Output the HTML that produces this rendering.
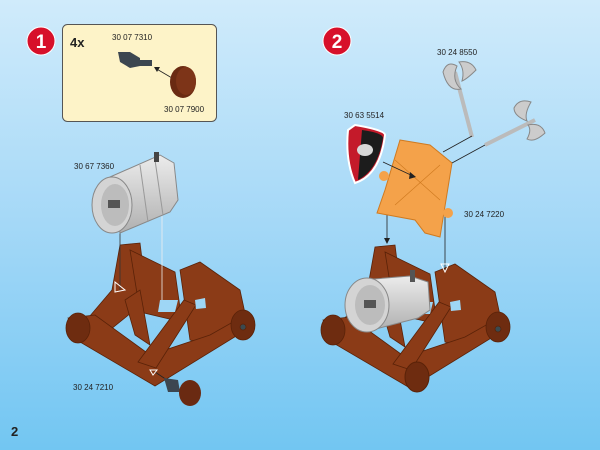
<!DOCTYPE html>
<html><head><meta charset="utf-8"><style>
html,body{margin:0;padding:0;width:600px;height:450px;overflow:hidden}
svg{display:block}
text{font-family:"Liberation Sans",sans-serif;fill:#222}
</style></head><body>
<svg width="600" height="450" viewBox="0 0 600 450">
<defs>
<linearGradient id="bg" x1="0" y1="0" x2="0" y2="1">
<stop offset="0" stop-color="#d0ebfb"/><stop offset="0.5" stop-color="#a4d8f7"/><stop offset="1" stop-color="#72c6f2"/>
</linearGradient>
<linearGradient id="barrel" x1="0" y1="0" x2="0" y2="1">
<stop offset="0" stop-color="#ececec"/><stop offset="1" stop-color="#b0b0b0"/>
</linearGradient>
<g id="cat" fill="#8b3b17" stroke="#5a2208" stroke-width="0.8">
<polygon points="120,245 140,243 147,300 95,342 78,330 112,290"/>
<polygon points="130,250 175,272 182,322 140,312"/>
<polygon points="180,270 200,262 240,290 246,318 210,345 190,340"/>
<polygon points="68,318 95,315 150,355 210,335 240,318 246,330 155,386 80,342"/>
<polygon points="138,362 184,300 196,305 156,368"/>
<polygon points="125,300 140,290 150,345 135,335"/>
<ellipse cx="78" cy="328" rx="12" ry="15" fill="#6e2c10"/>
<ellipse cx="243" cy="325" rx="12" ry="15" fill="#6e2c10"/>
<circle cx="243" cy="327" r="3" fill="#3a4a50"/>
<polygon points="160,300 178,300 175,312 158,312" fill="#9ed6f5" stroke="none"/>
<polygon points="195,300 205,298 206,308 196,309" fill="#9ed6f5" stroke="none"/>
</g>
</defs>
<rect width="600" height="450" fill="url(#bg)"/>

<!-- step 1 -->
<circle cx="41" cy="41" r="14" fill="#d7102a" stroke="#fff" stroke-width="1"/>
<text x="41" y="48" font-size="19" font-weight="bold" text-anchor="middle" style="fill:#fff">1</text>
<rect x="62.5" y="24.5" width="154" height="97" rx="5" fill="#fdf3c8" stroke="#555"/>
<text x="70" y="47" font-size="13" font-weight="bold">4x</text>
<text x="112" y="40" font-size="8">30 07 7310</text>
<text x="164" y="112" font-size="8">30 07 7900</text>
<polygon points="118,52 130,52 140,58 140,66 130,68 120,62" fill="#3c4650"/>
<rect x="140" y="60" width="12" height="6" fill="#3c4650"/>
<line x1="172" y1="78" x2="155" y2="68" stroke="#222" stroke-width="0.8"/>
<polygon points="154,67 160,67 157,72" fill="#222"/>
<ellipse cx="183" cy="82" rx="13" ry="16" fill="#6a2a12"/>
<ellipse cx="186" cy="81" rx="10" ry="14" fill="#7d3418"/>

<!-- left catapult -->
<use href="#cat"/>
<line x1="120" y1="230" x2="120" y2="290" stroke="#333" stroke-width="0.8"/>
<line x1="162" y1="205" x2="162" y2="300" stroke="#eee" stroke-width="0.8"/>
<polygon points="115,282 125,290 115,292" fill="none" stroke="#fff"/>
<polygon points="110,177 160,155 174,163 178,200 170,212 120,233" fill="url(#barrel)" stroke="#888"/>
<line x1="140" y1="165" x2="148" y2="222" stroke="#999"/>
<line x1="155" y1="160" x2="163" y2="215" stroke="#999"/>
<rect x="154" y="152" width="5" height="10" fill="#444"/>
<ellipse cx="112" cy="205" rx="20" ry="28" fill="#d4d4d4" stroke="#888"/>
<ellipse cx="115" cy="205" rx="14" ry="21" fill="#bcbcbc"/>
<rect x="108" y="200" width="12" height="8" fill="#555"/>
<text x="74" y="169" font-size="8">30 67 7360</text>
<text x="73" y="390" font-size="8">30 24 7210</text>
<line x1="170" y1="382" x2="155" y2="372" stroke="#222" stroke-width="0.8"/>
<polygon points="150,370 157,370 153,375" fill="none" stroke="#fff"/>
<polygon points="164,378 178,380 180,392 168,392" fill="#3c4650"/>
<ellipse cx="190" cy="393" rx="11" ry="13" fill="#6a2a12"/>
<text x="11" y="436" font-size="13" font-weight="bold">2</text>

<!-- step 2 -->
<circle cx="337" cy="41" r="14" fill="#d7102a" stroke="#fff" stroke-width="1"/>
<text x="337" y="48" font-size="19" font-weight="bold" text-anchor="middle" style="fill:#fff">2</text>
<g transform="translate(255,2)"><use href="#cat"/></g>
<ellipse cx="417" cy="377" rx="12" ry="15" fill="#6e2c10" stroke="#5a2208"/>
<polygon points="362,280 410,276 428,282 430,310 418,318 372,330" fill="url(#barrel)" stroke="#888"/>
<rect x="410" y="270" width="5" height="12" fill="#555"/>
<ellipse cx="367" cy="305" rx="22" ry="27" fill="#d4d4d4" stroke="#888"/>
<ellipse cx="370" cy="305" rx="15" ry="20" fill="#bcbcbc"/>
<rect x="364" y="300" width="12" height="8" fill="#555"/>
<line x1="387" y1="205" x2="387" y2="240" stroke="#222" stroke-width="0.8"/>
<polygon points="384,238 390,238 387,244" fill="#222"/>
<line x1="445" y1="215" x2="445" y2="270" stroke="#222" stroke-width="0.8"/>
<polygon points="441,264 449,264 445,272" fill="none" stroke="#fff"/>
<!-- orange plate -->
<polygon points="400,140 430,145 452,163 440,237 425,233 415,220 377,213 385,190" fill="#f4a24a" stroke="#d07a20"/>
<circle cx="384" cy="176" r="5" fill="#f4a24a"/>
<circle cx="448" cy="213" r="5" fill="#f4a24a"/>
<line x1="395" y1="160" x2="440" y2="200" stroke="#d07a20" stroke-width="0.7"/>
<line x1="440" y1="165" x2="395" y2="205" stroke="#d07a20" stroke-width="0.7"/>
<text x="464" y="217" font-size="8">30 24 7220</text>
<!-- shield -->
<path d="M355,125 Q385,130 385,135 Q380,175 355,183 Q345,160 348,130 Z" fill="#c41a2a" stroke="#fff" stroke-width="2"/>
<path d="M362,130 Q383,133 383,138 Q378,170 358,180 Z" fill="#1c1c1c"/>
<ellipse cx="365" cy="150" rx="8" ry="6" fill="#d8d8d8"/>
<text x="344" y="118" font-size="8">30 63 5514</text>
<line x1="383" y1="162" x2="413" y2="176" stroke="#222" stroke-width="0.8"/>
<polygon points="410,172 416,177 409,179" fill="#222"/>
<!-- axes -->
<text x="437" y="55" font-size="8">30 24 8550</text>
<line x1="455" y1="72" x2="472" y2="137" stroke="#bbb" stroke-width="4"/>
<path d="M443,72 Q447,60 457,66 Q451,80 461,89 Q448,92 443,72Z" fill="#ccc" stroke="#888"/>
<path d="M459,62 Q471,60 476,70 Q467,79 462,81 Q465,70 459,62Z" fill="#ccc" stroke="#888"/>
<line x1="472" y1="136" x2="443" y2="152" stroke="#222" stroke-width="0.8"/>
<line x1="485" y1="145" x2="535" y2="120" stroke="#bbb" stroke-width="4"/>
<path d="M514,108 Q519,98 531,102 Q524,114 527,121 Q514,116 514,108Z" fill="#ccc" stroke="#888"/>
<path d="M528,125 Q541,122 545,133 Q534,143 527,139 Q532,130 528,125Z" fill="#ccc" stroke="#888"/>
<line x1="485" y1="145" x2="452" y2="163" stroke="#222" stroke-width="0.8"/>
</svg>
</body></html>
